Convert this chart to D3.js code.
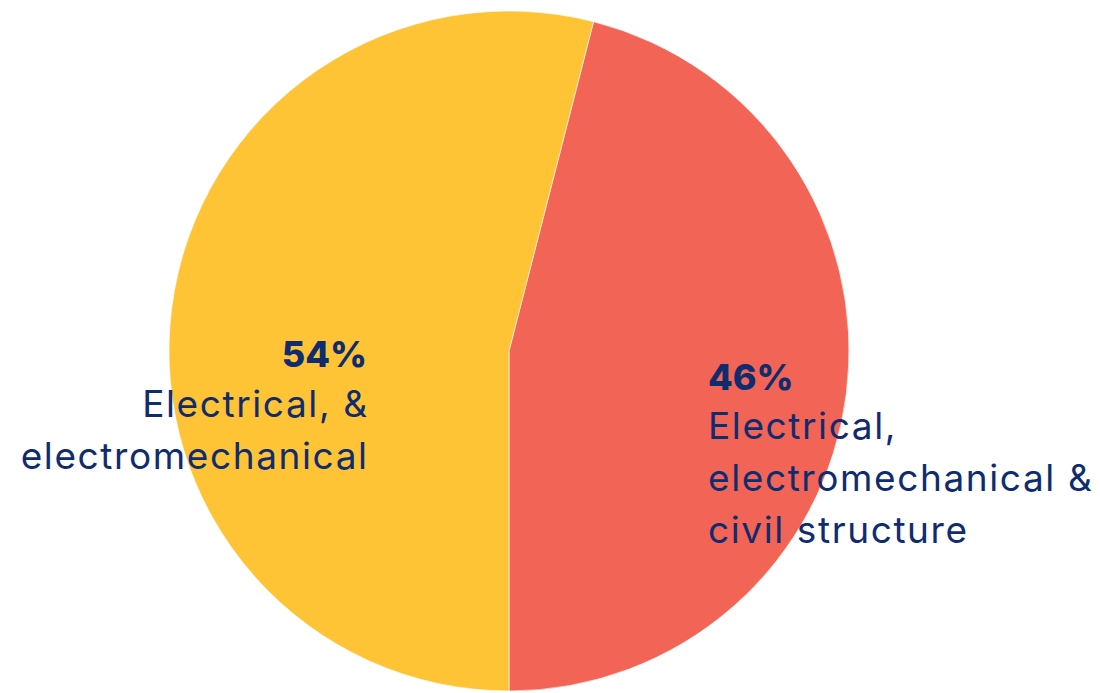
<!DOCTYPE html>
<html>
<head>
<meta charset="utf-8">
<script src="https://cdn.jsdelivr.net/npm/d3@7"></script>
<style>
  body { margin: 0; background: #fff; }
  svg text { font-family: Inter, "Noto Sans", sans-serif; fill: #0f2d6e; }
</style>
</head>
<body>
<svg></svg>
<script>
window.onload = function () {
    let width = 1100;
    let height = 693;
    let svg = d3.select("svg").attr("width", width).attr("height", height);

    // chart data
    let categories = ["Electrical, electromechanical & civil structure", "Electrical, & electromechanical"];
    let shares = [46, 54];
    let colours = ["#f26456", "#fec436"];
    // label lines for each slice
    let labelLines = [
        ["Electrical,", "electromechanical &", "civil structure"],
        ["Electrical, &", "electromechanical"]
    ];

    let cx = 509, cy = 351, radius = 340;

    // red slice ends straight down at the bottom of the circle
    let start = Math.PI - (shares[0] / 100) * 2 * Math.PI;
    let pie = d3.pie().sort(null).value(d => d)
        .startAngle(start).endAngle(start + 2 * Math.PI);
    let arc = d3.arc().innerRadius(0).outerRadius(radius);

    let g = svg.append("g").attr("transform", "translate(" + cx + "," + cy + ")");
    g.selectAll("path")
        .data(pie(shares))
        .enter().append("path")
        .attr("d", arc)
        .attr("fill", (d, i) => colours[i])
        .attr("stroke", "#fff")
        .attr("stroke-width", 0.6);

    let lineGap = 52;
    let fontSize = 37;
    let spacing = 1.6;

    // right label (46%)
    let right = svg.append("text").attr("x", 708).attr("y", 390);
    right.append("tspan").attr("x", 708).attr("font-weight", 800).attr("font-size", 36)
        .text(shares[0] + "%");
    labelLines[0].forEach(function (line, i) {
        right.append("tspan").attr("x", 708).attr("dy", i == 0 ? 49 : lineGap)
            .attr("font-size", fontSize).attr("letter-spacing", spacing).text(line);
    });

    // left label (54%)
    let left = svg.append("text").attr("x", 367).attr("y", 367).attr("text-anchor", "end");
    left.append("tspan").attr("x", 367).attr("font-weight", 800).attr("font-size", 36)
        .text(shares[1] + "%");
    labelLines[1].forEach(function (line, i) {
        left.append("tspan").attr("x", 367 + spacing).attr("dy", i == 0 ? 50 : lineGap)
            .attr("font-size", fontSize).attr("letter-spacing", spacing).text(line);
    });
}
</script>
</body>
</html>
